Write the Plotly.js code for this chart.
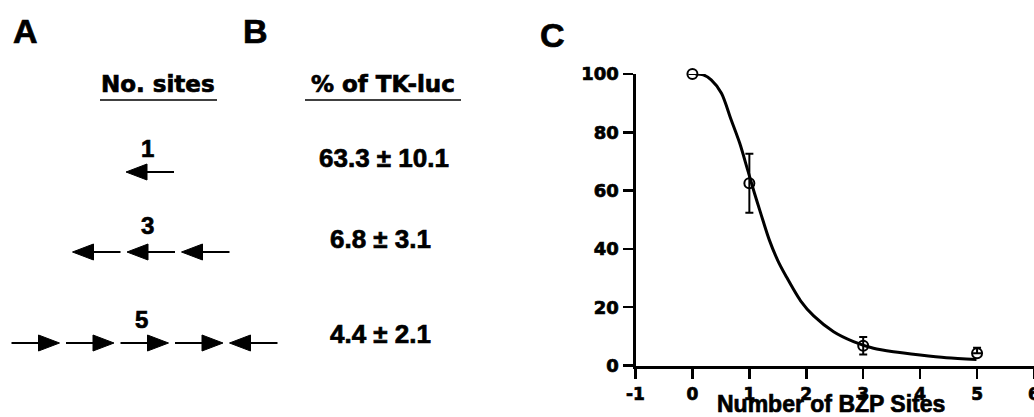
<!DOCTYPE html>
<html><head><meta charset="utf-8">
<script src="https://cdn.plot.ly/plotly-3.0.1.min.js"></script>
<style>html,body{margin:0;padding:0;background:#fff}#chart{width:1034px;height:417px}
#chart svg text{stroke:#000;stroke-width:0.7px;}</style>
</head><body><div id="chart"></div>
<script>
// ---------- Panel C data ----------
const siteCounts  = [0, 1, 3, 5];
const percentOfTK = [100, 62.5, 6.8, 4.2];
const errPlus     = [0, 10.1, 3.0, 1.9];
const errMinus    = [0, 10.1, 3.0, 0];
const fitX = [0.05, 0.19, 0.33, 0.51, 0.68, 0.83, 0.97, 1.09, 1.20, 1.35, 1.50, 1.64, 1.90, 2.13, 2.48, 2.83, 3.18, 3.53, 4.00, 4.46, 4.99];
const fitY = [100, 99.7, 98.0, 93.4, 84.3, 76.3, 67.1, 59.1, 52.2, 43.1, 36.0, 30.8, 22.2, 17.0, 11.6, 8.2, 5.9, 4.7, 3.6, 2.7, 2.1];
const xTickVals = [-1, 0, 1, 2, 3, 4, 5, 6];
const xTickText = ['-1', '0', '1', '2', '3', '4', '5', '6'];
const yTickVals = [0, 20, 40, 60, 80, 100];
const xTitle = 'Number of BZP Sites';

// ---------- Panels A and B ----------
const panelLabels     = ['A', 'B', 'C'];
const headerSites     = 'No. sites';
const headerActivity  = '% of TK-luc';
const siteLabels      = ['1', '3', '5'];
const siteOrientation = [['L'], ['L', 'L', 'L'], ['R', 'R', 'R', 'R', 'L']];
const activityText    = ['63.3 ± 10.1', '6.8 ± 3.1', '4.4 ± 2.1'];

// ---------- layout helpers (pixel -> paper) ----------
const W = 1034, H = 417;
const px = v => v / W;
const py = v => 1 - v / H;
const BOLD_WIDE = {family: 'DejaVu Sans', weight: 'bold', color: '#000'};
const BOLD_ARIAL = {family: 'Liberation Sans, Arial', weight: 'bold', color: '#000'};

const annotations = [];
const shapes = [];

function addText(text, x, y, size, fam) {
  annotations.push({text: text, xref: 'paper', yref: 'paper', x: px(x), y: py(y),
    xanchor: 'center', yanchor: 'middle', showarrow: false,
    font: Object.assign({size: size}, fam)});
}

// panel letters
const letterPos = [[25.5, 31], [255, 31], [552, 35]];
panelLabels.forEach((t, i) => addText(t, letterPos[i][0], letterPos[i][1], 34, BOLD_ARIAL));

// headers + underlines
addText(headerSites, 158, 84, 23, BOLD_WIDE);
addText(headerActivity, 383, 84, 23, BOLD_WIDE);
[[100, 217], [305, 461]].forEach(r => shapes.push({type: 'line', xref: 'paper', yref: 'paper',
  x0: px(r[0]), x1: px(r[1]), y0: py(100), y1: py(100), line: {color: '#000', width: 1.6}}));

// rows of arrows
const rowCenterX = [150, 151, 144.5];
const rowArrowY  = [172, 252, 343];
const labelX     = [147, 147, 141];
const labelY     = [148, 226, 319];
const valueX     = [384, 380, 380];
const valueY     = [158, 239, 334];
const pitch = 54.5, arrowLen = 48, headLen = 21, headHalf = 8;

siteOrientation.forEach((dirs, r) => {
  addText(siteLabels[r], labelX[r], labelY[r], 24, BOLD_ARIAL);
  addText(activityText[r], valueX[r], valueY[r], 26, BOLD_ARIAL);
  const total = dirs.length * pitch - (pitch - arrowLen);
  const y = rowArrowY[r];
  dirs.forEach((d, i) => {
    const x0 = rowCenterX[r] - total / 2 + i * pitch;
    const x1 = x0 + arrowLen;
    let tip, base, s0, s1;
    if (d === 'L') { tip = x0; base = x0 + headLen; s0 = base - 2; s1 = x1; }
    else { tip = x1; base = x1 - headLen; s0 = x0; s1 = base + 2; }
    shapes.push({type: 'line', xref: 'paper', yref: 'paper', x0: px(s0), x1: px(s1),
      y0: py(y), y1: py(y), line: {color: '#000', width: 2}});
    shapes.push({type: 'path', xref: 'paper', yref: 'paper',
      path: `M ${px(tip)} ${py(y)} L ${px(base)} ${py(y - headHalf)} L ${px(base)} ${py(y + headHalf)} Z`,
      fillcolor: '#000', line: {color: '#000', width: 1}});
  });
});

// x axis title
addText(xTitle, 831, 404, 23, BOLD_ARIAL);

const traces = [
  {x: fitX, y: fitY, type: 'scatter', mode: 'lines', cliponaxis: false, hoverinfo: 'skip',
   line: {color: '#000', width: 3, shape: 'spline', smoothing: 0.8}},
  {x: siteCounts, y: percentOfTK, type: 'scatter', mode: 'markers', cliponaxis: false,
   marker: {symbol: 'circle-open', size: 10, color: '#000', line: {width: 2, color: '#000'}},
   error_y: {type: 'data', symmetric: false, array: errPlus, arrayminus: errMinus,
             color: '#000', thickness: 2, width: 4}}
];

const axisCommon = {
  showline: true, linewidth: 3, linecolor: '#000', ticks: 'outside', ticklen: 10,
  tickwidth: 2.5, tickcolor: '#000', showgrid: false, zeroline: false, fixedrange: true
};

const layout = {
  width: W, height: H, margin: {l: 0, r: 0, t: 0, b: 0},
  paper_bgcolor: '#fff', plot_bgcolor: 'rgba(0,0,0,0)', showlegend: false,
  xaxis: Object.assign({}, axisCommon, {domain: [635.5 / W, 1], range: [-1, 6],
    tickvals: xTickVals, ticktext: xTickText, ticklabeloverflow: 'allow', ticklabelstandoff: 1,
    tickfont: {family: 'DejaVu Sans', weight: 'bold', size: 17, color: '#000'}}),
  yaxis: Object.assign({}, axisCommon, {domain: [1 - 365.5 / H, 1 - 74 / H], range: [0, 100],
    tickvals: yTickVals, ticklabelstandoff: 0,
    tickfont: {family: 'DejaVu Sans', weight: 'bold', size: 18, color: '#000'}}),
  annotations: annotations, shapes: shapes
};

Plotly.newPlot('chart', traces, layout, {staticPlot: true, displayModeBar: false});
</script></body></html>
